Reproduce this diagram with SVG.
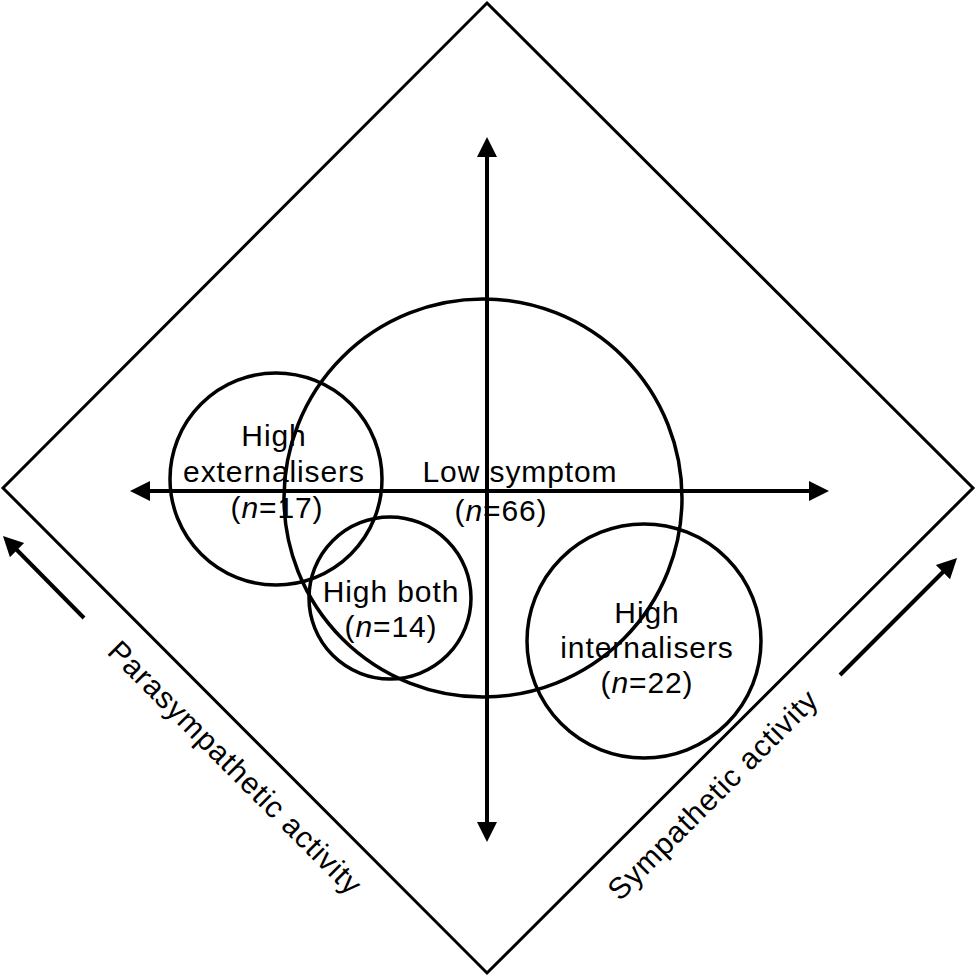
<svg xmlns="http://www.w3.org/2000/svg" width="976" height="977" viewBox="0 0 976 977">
<style>
.ln{stroke:#000;stroke-width:3;fill:none}
.ax{stroke:#000;stroke-width:4;fill:none}
.c{stroke:#000;stroke-width:3.5;fill:none}
text{font-family:"Liberation Sans",Arial,sans-serif;font-size:30px;fill:#000;letter-spacing:0.9px}
.m{text-anchor:middle}
</style>
<defs>
<marker id="ah" markerUnits="userSpaceOnUse" markerWidth="22" markerHeight="22" viewBox="0 0 22 22" refX="10" refY="11" orient="auto-start-reverse">
<path d="M0,1 L20,11 L0,21 z" fill="#000"/>
</marker>
</defs>
<rect width="976" height="977" fill="#fff"/>
<g id="frame">
<polygon class="ln" points="487,3 973,488 487,973 3,488"/>
</g>
<g id="connectors">
<line class="ax" x1="487" y1="147" x2="487" y2="832" marker-start="url(#ah)" marker-end="url(#ah)"/>
<line class="ax" x1="140" y1="491" x2="819" y2="491" marker-start="url(#ah)" marker-end="url(#ah)"/>
<line class="ax" x1="84" y1="618" x2="10" y2="543" marker-end="url(#ah)"/>
<line class="ax" x1="840" y1="675" x2="950" y2="565" marker-end="url(#ah)"/>
</g>
<g id="low-symptom">
<circle class="c" cx="483" cy="498" r="199"/>
<text class="m" x="520" y="482">Low symptom</text>
<text class="m" x="501" y="521">(<tspan font-style="italic">n</tspan>=66)</text>
</g>
<g id="high-externalisers">
<circle class="c" cx="276" cy="479" r="106"/>
<text class="m" x="274" y="446">High</text>
<text class="m" x="274" y="482">externalisers</text>
<text class="m" x="277" y="518">(<tspan font-style="italic">n</tspan>=17)</text>
</g>
<g id="high-both">
<circle class="c" cx="390" cy="598" r="81"/>
<text class="m" x="391" y="602">High both</text>
<text class="m" x="391" y="637">(<tspan font-style="italic">n</tspan>=14)</text>
</g>
<g id="high-internalisers">
<circle class="c" cx="644" cy="641" r="117"/>
<text class="m" x="647" y="623">High</text>
<text class="m" x="647" y="658">internalisers</text>
<text class="m" x="647" y="693">(<tspan font-style="italic">n</tspan>=22)</text>
</g>
<g id="labels">
<text x="106" y="653" transform="rotate(45 106 653)">Parasympathetic activity</text>
<text x="620" y="902" transform="rotate(-45 620 902)">Sympathetic activity</text>
</g>
</svg>
